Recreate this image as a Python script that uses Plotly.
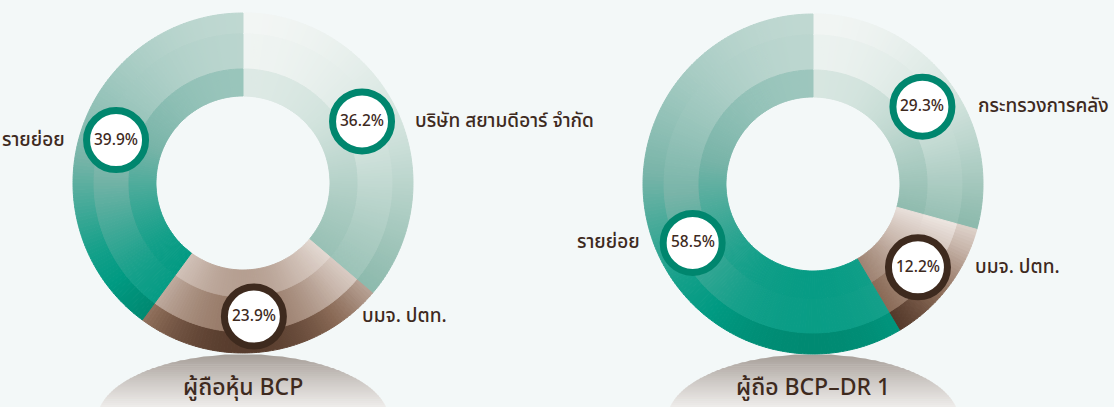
import numpy as np
import plotly.graph_objects as go

W, H = 1114, 407

# ---- data ----
bcp_labels = ['บริษัท สยามดีอาร์ จำกัด', 'บมจ. ปตท.', 'รายย่อย']
bcp_values = [36.2, 23.9, 39.9]
dr_labels = ['กระทรวงการคลัง', 'บมจ. ปตท.', 'รายย่อย']
dr_values = [29.3, 12.2, 58.5]
chart_titles = ['ผู้ถือหุ้น BCP', 'ผู้ถือ BCP–DR 1']

# ---- style ----
BG = '#f3f8f8'
TEXT = '#3e2a1e'
FONT = 'Noto Sans Thai, Noto Sans, sans-serif'
kinds = ['light', 'brown', 'green']
gradients = {
    'light': [(0, '#f8f9f8'), (0.45, '#d2e3dd'), (1, '#8dbaad')],
    'brown': [(0, '#f6f1ee'), (0.35, '#c9b7ac'), (0.7, '#8a6a56'), (1, '#4a3022')],
    'green': [(0, '#c9ddd7'), (0.5, '#78b4a8'), (0.8, '#15a08a'),
              (0.9, '#009a82'), (1, '#008a72')],
}
badge_border = {'light': '#00866e', 'green': '#00866e', 'brown': '#3e2a1e'}
R_OUT, R_HOLE = 170, 87
bands = [(149, 170, 0.03), (114, 149, -0.03), (87, 114, 0.07)]  # inner, outer, t shift
donuts = [
    dict(cx=243, cy=183, labels=bcp_labels, values=bcp_values, title=chart_titles[0],
         shift=[-2.5, 2.0, 0.5]),
    dict(cx=813, cy=184, labels=dr_labels, values=dr_values, title=chart_titles[1],
         shift=[2.0, 1.0, -10.8]),
]


def hex2rgb(h):
    h = h.lstrip('#')
    return np.array([int(h[i:i + 2], 16) for i in (0, 2, 4)], dtype=float)


def grad_color(kind, t):
    t = min(max(t, 0.0), 1.0)
    stops = gradients[kind]
    for (t0, c0), (t1, c1) in zip(stops[:-1], stops[1:]):
        if t <= t1:
            f = (t - t0) / (t1 - t0) if t1 > t0 else 0
            c = hex2rgb(c0) * (1 - f) + hex2rgb(c1) * f
            return 'rgb(%d,%d,%d)' % tuple(np.round(c))
    return stops[-1][1]


def px(x, y):
    return x / W, 1 - y / H


fig = go.Figure()
shapes = []
annotations = []

for d in donuts:
    cx, cy = d['cx'], d['cy']
    total = sum(d['values'])
    starts = np.cumsum([0] + d['values'][:-1]) / total * 360
    ends = starts + np.array(d['values']) / total * 360

    # vertical extent of every slice (for its own gradient)
    extents = []
    for a0, a1 in zip(starts, ends):
        th = np.radians(np.linspace(a0, a1, 200))
        ys = np.concatenate([cy - R_OUT * np.cos(th), cy - R_HOLE * np.cos(th)])
        extents.append((ys.min(), ys.max()))

    for r_in, r_out, tshift in bands:
        vals, cols, texts = [], [], []
        rm = (r_in + r_out) / 2
        for i, v in enumerate(d['values']):
            n = int(np.ceil(v * 3))
            ymin, ymax = extents[i]
            for k in range(n):
                th = np.radians(starts[i] + (k + 0.5) / n * (ends[i] - starts[i]))
                y = cy - rm * np.cos(th)
                t = (y - ymin) / (ymax - ymin) + tshift
                vals.append(v / n)
                cols.append(grad_color(kinds[i], t))
                texts.append('%s: %.1f%%' % (d['labels'][i], v))
        x0, y1 = px(cx - r_out, cy - r_out)
        x1, y0 = px(cx + r_out, cy + r_out)
        fig.add_trace(go.Pie(
            values=vals, hovertext=texts, hoverinfo='text', textinfo='none',
            sort=False, direction='clockwise', rotation=0, hole=r_in / r_out,
            marker=dict(colors=cols, line=dict(color=cols, width=1)),
            domain=dict(x=[x0, x1], y=[y0, y1]), showlegend=False))

    # badges + outside labels
    for i, (lab, v) in enumerate(zip(d['labels'], d['values'])):
        mid = np.radians((starts[i] + ends[i]) / 2 + d['shift'][i])
        bx = cx + 134 * np.sin(mid)
        by = cy - 134 * np.cos(mid)
        ax, ay = px(bx, by)
        shapes.append(dict(type='circle', xref='paper', yref='paper',
                           xsizemode='pixel', ysizemode='pixel', xanchor=ax, yanchor=ay,
                           x0=-29.5, x1=29.5, y0=-29.5, y1=29.5, layer='above',
                           fillcolor='white', line=dict(color=badge_border[kinds[i]], width=7)))
        annotations.append(dict(x=ax, y=ay, xref='paper', yref='paper', showarrow=False,
                                xanchor='center', yanchor='middle', text='%.1f%%' % v,
                                font=dict(size=15.5, color=TEXT, family=FONT, weight=500)))
        dy = by - cy
        edge = np.sqrt(max(R_OUT ** 2 - dy ** 2, 0)) + 12
        side = 1 if np.sin(mid) > 0 else -1
        lx, ly = px(cx + side * edge, by)
        annotations.append(dict(x=lx, y=ly, xref='paper', yref='paper', showarrow=False,
                                xanchor='left' if side > 0 else 'right', yanchor='middle',
                                text=lab, font=dict(size=19, color=TEXT, family=FONT, weight=500)))

    # grey ellipse base with vertical gradient
    ea, eb, ecy = 146, 66, 420
    ytop = ecy - eb + 0.5
    ygrid = np.linspace(ytop, H, 28)
    base = [(0, '#a69e98'), (0.5, '#cdc8c4'), (1, '#eeecea')]
    for ya, yb in zip(ygrid[:-1], ygrid[1:]):
        f = ((ya + yb) / 2 - ytop) / (H - ytop)
        for (t0, c0), (t1, c1) in zip(base[:-1], base[1:]):
            if f <= t1:
                g = (f - t0) / (t1 - t0)
                c = hex2rgb(c0) * (1 - g) + hex2rgb(c1) * g
                break
        wa = ea * np.sqrt(max(1 - ((ya - ecy) / eb) ** 2, 0))
        wb = ea * np.sqrt(max(1 - ((yb - ecy) / eb) ** 2, 0))
        pts = [px(cx - wa, ya), px(cx + wa, ya), px(cx + wb, yb + 0.6), px(cx - wb, yb + 0.6)]
        path = 'M' + ' L'.join('%.5f,%.5f' % p for p in pts) + ' Z'
        shapes.append(dict(type='path', xref='paper', yref='paper', path=path,
                           layer='below', line=dict(width=0),
                           fillcolor='rgb(%d,%d,%d)' % tuple(np.round(c))))
    tx, ty = px(cx, 388)
    annotations.append(dict(x=tx, y=ty, xref='paper', yref='paper', showarrow=False,
                            xanchor='center', yanchor='middle', text=d['title'],
                            font=dict(size=23, color=TEXT, family=FONT, weight=500)))

fig.update_layout(width=W, height=H, margin=dict(l=0, r=0, t=0, b=0),
                  paper_bgcolor=BG, plot_bgcolor=BG, shapes=shapes,
                  annotations=annotations, showlegend=False)
fig.write_html('out.html', config={'displayModeBar': False},
               post_script="document.body.style.margin='0';document.body.style.overflow='hidden';")
